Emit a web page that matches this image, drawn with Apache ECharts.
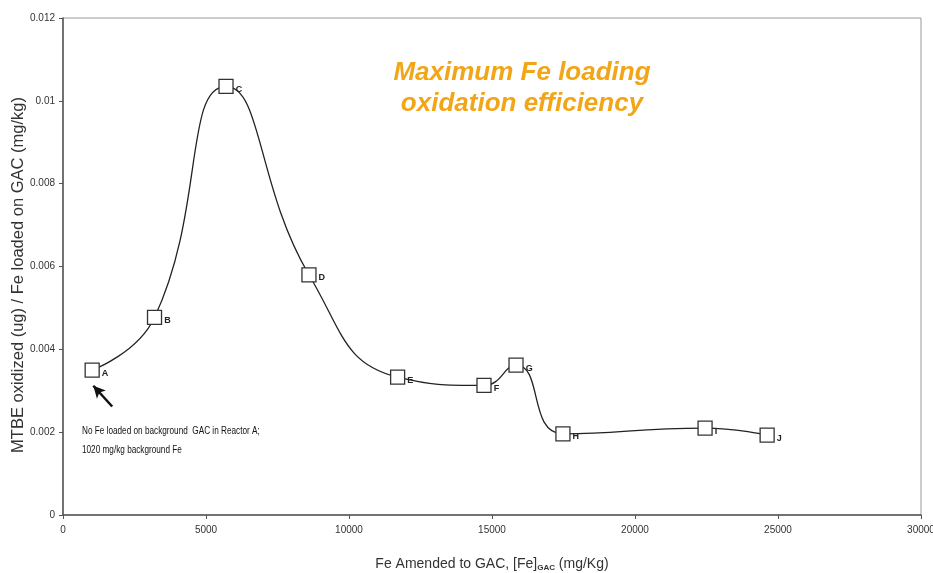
<!DOCTYPE html>
<html><head><meta charset="utf-8">
<script src="https://cdn.jsdelivr.net/npm/echarts@6/dist/echarts.min.js"></script>
<style>html,body{margin:0;padding:0;background:#fff}#c{width:933px;height:573px}</style>
</head><body><div id="c"></div>
<script>
const pointLabels = ['A','B','C','D','E','F','G','H','I','J'];
const feAmended = [1020, 3200, 5700, 8600, 11700, 14720, 15840, 17480, 22450, 24620];
const efficiency = [0.0035, 0.00477, 0.01035, 0.0058, 0.00333, 0.00313, 0.00362, 0.00196, 0.0021, 0.00193];
const yTicks = [0, 0.002, 0.004, 0.006, 0.008, 0.01, 0.012];
const xTicks = [0, 5000, 10000, 15000, 20000, 25000, 30000];
const yTitle = 'MTBE oxidized (ug) / Fe loaded on GAC (mg/kg)';
const arrowFrom = [1720, 0.00262];
const arrowTo = [1060, 0.00312];

const chart = echarts.init(document.getElementById('c'));
chart.setOption({
  animation: false,
  backgroundColor: '#fff',
  grid: {left: 63, right: 12, top: 18, bottom: 58, show: true, borderColor: '#999', borderWidth: 1, containLabel: false, outerBoundsMode: 'none'},
  xAxis: {
    type: 'value', min: xTicks[0], max: xTicks[xTicks.length-1], interval: 5000,
    axisLine: {lineStyle: {color: '#555', width: 1.5}},
    axisTick: {show: true, length: 4, lineStyle: {color: '#555'}},
    splitLine: {show: false},
    axisLabel: {color: '#333', fontSize: 10, fontFamily: 'Liberation Sans Narrow, Arial', margin: 10, formatter: v => String(v)},
    name: '{a|Fe Amended to GAC, [Fe]}{s|GAC}{a| (mg/Kg)}',
    nameLocation: 'middle', nameGap: 41,
    nameTextStyle: {rich: {
      a: {fontSize: 14, color: '#333', fontFamily: 'Liberation Sans Narrow, Arial'},
      s: {fontSize: 8, color: '#333', fontWeight: 'bold', fontFamily: 'Liberation Sans Narrow, Arial', padding: [8,0,0,0]}
    }}
  },
  yAxis: {
    type: 'value', min: yTicks[0], max: yTicks[yTicks.length-1], interval: 0.002,
    axisLine: {show: true, lineStyle: {color: '#555', width: 1.5}},
    axisTick: {show: true, length: 4, lineStyle: {color: '#555'}},
    splitLine: {show: false},
    axisLabel: {color: '#333', fontSize: 10, fontFamily: 'Liberation Sans Narrow, Arial', margin: 8}
  },
  series: [{
    type: 'line',
    smooth: 0.5,
    data: feAmended.map((x, i) => ({value: [x, efficiency[i]], name: pointLabels[i]})),
    symbol: 'rect', symbolSize: 14,
    itemStyle: {color: '#fff', borderColor: '#333', borderWidth: 1.3},
    lineStyle: {color: '#222', width: 1.3},
    label: {show: true, position: 'right', distance: 2, formatter: p => p.name, fontSize: 9, color: '#222', fontWeight: 'bold', offset: [0, 3]},
    markLine: {
      silent: true, symbol: ['none', 'arrow'], symbolSize: [9, 12],
      lineStyle: {color: '#111', width: 2.5, type: 'solid'},
      label: {show: false},
      data: [[{coord: arrowFrom}, {coord: arrowTo}]]
    },
    z: 3
  }],
  graphic: [
    {type: 'text', x: 18, y: 275, rotation: Math.PI / 2, style: {text: yTitle, textAlign: 'center', textVerticalAlign: 'middle', fill: '#333', font: '16.5px Liberation Sans, Arial'}},
    {type: 'text', x: 82, y: 426, scaleX: 0.82, style: {text: 'No Fe loaded on background  GAC in Reactor A;', fill: '#111', font: '10px Liberation Sans, Arial'}},
    {type: 'text', x: 82, y: 445, scaleX: 0.82, style: {text: '1020 mg/kg background Fe', fill: '#111', font: '10px Liberation Sans, Arial'}},
    {type: 'text', x: 522, y: 57, style: {text: 'Maximum Fe loading\noxidation efficiency', align: 'center', textAlign: 'center', fill: '#F2A516', font: 'italic bold 26px Liberation Sans, Arial', lineHeight: 31}}
  ]
});
</script></body></html>
